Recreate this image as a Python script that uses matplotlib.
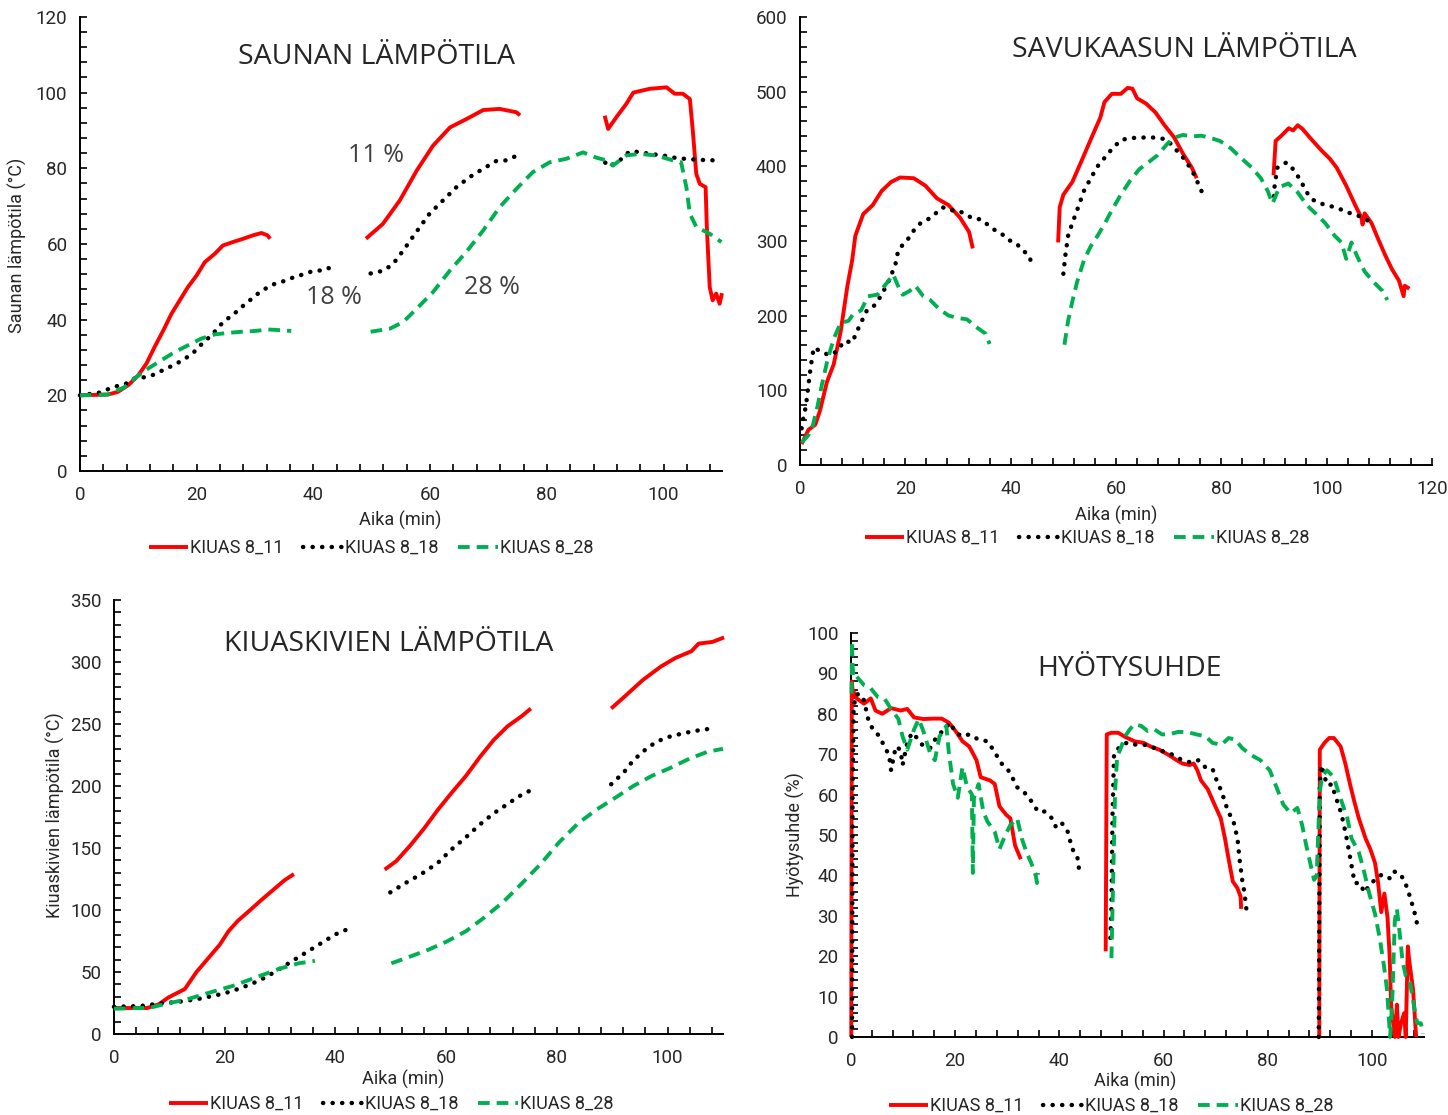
import numpy as np
import matplotlib
matplotlib.use("Agg")
import matplotlib.pyplot as plt
from matplotlib.ticker import MultipleLocator
from matplotlib.lines import Line2D

# ── data: (time min, value) pairs, None = break between firing periods ──────
SAUNA_11 = [(0, 20), (4.8, 20.2), (6.5, 20.9), (8.3, 22.7), (10, 25.3), (11.4, 28.4), (12.8, 32.8),
            (14.3, 37.2), (15.7, 41.6), (17.1, 45.1), (18.5, 48.6), (20, 51.7), (21.4, 55.2), (23.1, 57.4),
            (24.5, 59.6), (26.2, 60.5), (28, 61.4), (29.7, 62.3), (31.1, 62.9), (32.1, 62.3), (32.6, 61.4),
            None,
            (49.0, 61.4), (51.9, 65.3), (54.8, 71.5), (57.7, 79.4), (60.5, 86), (63.4, 90.8), (66.2, 93),
            (69.1, 95.4), (71.9, 95.7), (74.8, 94.8), (75.4, 94),
            None,
            (89.9, 93.9), (90.5, 90.4), (91.9, 93.5), (93.6, 97), (94.8, 100), (97.6, 101), (100.5, 101.4),
            (101.9, 99.7), (103.3, 99.7), (104.5, 98.3), (105.0, 90), (105.6, 78.5), (106.2, 75.9),
            (107.2, 75), (107.4, 64.5), (107.9, 48.6), (108.4, 45.1), (109.0, 46.9), (109.6, 44.2), (110, 47)]
SAUNA_18 = [(0, 20), (3.3, 20.7), (4.8, 21.6), (6.3, 22.4), (7.9, 23.1), (9.4, 24.5), (10.8, 24.7),
            (12.4, 25.3), (13.9, 26.4), (15.4, 27.5), (16.8, 28.6), (18.2, 29.9), (19.4, 31.2), (20.5, 33),
            (21.7, 34.7), (22.8, 36.3), (23.9, 38.3), (25, 40), (26.1, 41), (27.2, 42.7), (28.4, 44.2),
            (29.5, 45.6), (30.6, 47), (31.8, 48.2), (33.1, 49.3), (34.4, 49.9), (35.7, 50.6), (36.9, 51.4),
            (38.4, 52), (39.8, 52.8), (41.2, 53), (42.5, 53.7), (43.8, 52.6),
            None,
            (49.8, 52.2), (51.9, 52.9), (53.6, 54.6), (55.4, 58.3), (57.6, 63.1), (59.9, 68), (62.2, 71.5),
            (64.5, 75), (66.8, 77.7), (69.1, 79.9), (71.3, 81.9), (73.1, 82.1), (74.5, 83.1), (75.6, 82.5),
            None,
            (90.0, 81.5), (90.5, 80.5), (91.3, 81), (92.5, 82.1), (94.2, 84.5), (95.9, 84.3), (97.6, 83.8),
            (99.9, 83.4), (102.2, 82.7), (104.5, 82.4), (106.7, 82.2), (108.7, 82.1)]
SAUNA_28 = [(0, 20), (4.8, 20.2), (7.7, 22.2), (9.4, 24.5), (11.7, 27.1), (14, 29.3), (16.3, 31.5),
            (18.5, 33.2), (20.8, 35), (23.1, 36.1), (25.4, 36.5), (27.7, 36.8), (30, 37), (32.2, 37.4),
            (34.5, 37.2), (36.2, 37),
            None,
            (49.8, 36.8), (53.1, 37.6), (55.4, 39.4), (57.7, 42.9), (60.5, 47.3), (63.4, 53), (66.2, 57.9),
            (69.1, 63.6), (71.9, 69.7), (74.8, 74.6), (77.6, 79), (80.5, 81.6), (83.3, 82.5), (86.2, 84.2),
            (88.5, 82.8), (90.2, 82.1), (91.3, 80.7), (93.6, 83.4), (95.9, 83.8), (98.7, 83.4), (101.6, 82.1),
            (103, 81.6), (103.9, 75), (104.5, 68), (105.6, 64.5), (107.9, 62.7), (109.9, 60.5)]

FLUE_11 = [(0.3, 28), (1.6, 47), (2.9, 54), (3.8, 73), (5.1, 111), (6.4, 135), (7.7, 178), (9, 240),
           (9.9, 274), (10.5, 307), (12, 336), (13.8, 348), (15.5, 367), (17.3, 379), (19, 385), (21.6, 384),
           (23.8, 374), (26, 357), (28.2, 348), (30.4, 331), (32.1, 312), (32.8, 290),
           None,
           (49, 298), (49.3, 345), (50, 362), (51.7, 379), (53.5, 408), (55.2, 436), (57, 465), (57.8, 486),
           (59.2, 497), (60.9, 497), (62.2, 505), (63.1, 504), (64, 491), (65.7, 484), (67.5, 472),
           (69.2, 455), (71, 439), (72.7, 417), (74.4, 398), (75.3, 384),
           None,
           (89.9, 388), (90.3, 434), (91.4, 441), (92.8, 451), (93.6, 448), (94.5, 455), (95.4, 450),
           (97.1, 436), (98.9, 422), (100.6, 410), (101.9, 398), (103.7, 374), (105.4, 348), (106.6, 331),
           (106.8, 322), (107.2, 337), (108.5, 324), (109.8, 302), (111.1, 281), (112.4, 262), (113.7, 247),
           (114.6, 226), (114.8, 240), (115.7, 236)]
FLUE_18 = [(0.3, 49), (0.7, 66), (1.1, 78), (1.6, 107), (2, 130), (2.6, 157), (4, 152), (5.5, 147),
           (7, 152), (8.4, 166), (9.9, 164), (11.2, 185), (12.7, 207), (14.2, 214), (15.5, 228), (17.1, 250),
           (18.2, 271), (18.6, 286), (19.5, 295), (20.8, 305), (21.6, 314), (22.9, 324), (24.3, 329),
           (25.6, 336), (27.1, 345), (28.6, 341), (29.9, 341), (31.4, 336), (32.8, 330), (34.3, 329),
           (35.6, 322), (36.9, 315), (38.2, 310), (39.7, 301), (41, 297), (42.4, 287), (43.5, 280), (44.1, 267),
           None,
           (50, 256), (50.4, 282), (50.9, 307), (51.7, 324), (52.6, 341), (53.9, 367), (55.2, 384), (56.5, 400),
           (57.9, 412), (59.2, 423), (60.9, 435), (62.7, 438), (64.4, 438), (66.1, 439), (67.9, 438),
           (69.6, 436), (70.9, 426), (72.7, 412), (74, 399), (74.9, 388), (75.7, 375), (76.4, 364),
           None,
           (90, 360), (90.1, 373), (90.6, 398), (91.5, 401), (92.3, 405), (93.4, 398), (94.5, 387),
           (95.4, 376), (96.2, 365), (97.4, 355), (98.9, 350), (100.6, 347), (102.4, 343), (104.1, 338),
           (105.9, 334), (107.2, 330), (108.5, 324)]
FLUE_28 = [(0.3, 30), (1.6, 40), (2.4, 52), (3.3, 78), (4.2, 109), (5.2, 140), (6.4, 169), (7.7, 190),
           (9.2, 193), (10.1, 202), (11.6, 207), (12.9, 226), (14.7, 228), (16.4, 243), (17.7, 255),
           (18.6, 240), (19.5, 228), (20.8, 233), (21.9, 240), (23.4, 226), (24.7, 221), (26.4, 209),
           (28.2, 200), (29.9, 197), (31.7, 195), (33.4, 185), (35.2, 176), (36, 162),
           None,
           (50.2, 161), (50.9, 193), (51.7, 219), (52.6, 245), (53.9, 274), (55.2, 293), (56.5, 307),
           (57.9, 324), (59.2, 341), (60.9, 362), (62.7, 381), (64.4, 396), (66.1, 405), (67.9, 415),
           (69.6, 429), (70.9, 438), (72.7, 442), (74.4, 440), (76.2, 441), (77.9, 438), (79.7, 434),
           (81.8, 424), (83.6, 412), (85.8, 398), (87.5, 384), (88.8, 367), (89.7, 350), (91, 372),
           (92.7, 377), (94.5, 365), (96.2, 348), (98, 336), (99.7, 324), (101.5, 307), (102.8, 298),
           (103.7, 276), (104.7, 298), (105.8, 279), (107.2, 259), (108.9, 245), (110.6, 233), (111.5, 221)]

STONES_11 = [(0, 21), (6, 21), (8.1, 24), (9.8, 29.4), (12.8, 36.3), (14.9, 50), (17, 61), (19.1, 72),
             (20.7, 83), (22.4, 91.4), (24.5, 99.6), (26.6, 108), (28.7, 116), (30.8, 124), (32.5, 129),
             None,
             (48.9, 132.6), (51, 139.5), (53.5, 152), (56, 165.7), (58.5, 180.8), (61, 194.6), (63.6, 208.3),
             (66.1, 223.4), (68.6, 237.2), (71.1, 248.2), (73.7, 256.5), (75.3, 262.5),
             None,
             (89.8, 262.5), (92.1, 271.6), (95.5, 285.4), (98.8, 296.4), (101.4, 303.2), (104.3, 308.7),
             (105.6, 314.8), (108.1, 316.2), (110.2, 319.8)]
STONES_18 = [(0, 22), (4.8, 22.6), (8.6, 24.8), (11.5, 25.9), (14.9, 28), (17.4, 30.3), (19.9, 32.7),
             (22.4, 36.3), (24.9, 40.5), (27.5, 46), (30, 52.8), (32.5, 59.7), (35, 66.6), (37.5, 73.5),
             (40, 80.4), (42.6, 85.3),
             None,
             (49.9, 114.2), (52.6, 121.6), (55.5, 129), (58.5, 138), (61, 149), (63.6, 158.8), (66.1, 169),
             (68.6, 178), (71.1, 185.5), (73.2, 191.8), (75.6, 197.3),
             None,
             (89.8, 201.4), (92.1, 211), (93.8, 220.7), (95.9, 229), (98, 235.8), (100.5, 240), (103, 242.7),
             (105.6, 244.9), (107.9, 246.3)]
STONES_28 = [(0, 20.4), (6.5, 21.2), (9, 24), (13.2, 28), (17.4, 33.6), (21.6, 39), (25.8, 46), (30, 52.8),
             (33.3, 57), (36.3, 59),
             None,
             (50.1, 57), (53.5, 62.5), (56.8, 68), (60.2, 74.8), (63.6, 83), (66.9, 94), (70.3, 106.5),
             (73.7, 121.6), (77, 136.8), (80.4, 154.6), (83.8, 169.8), (87.1, 180.8), (90.5, 190.4),
             (93.8, 200), (97.2, 208.3), (100.5, 214.6), (103.9, 222), (107.2, 227.6), (110, 230)]

EFF_11 = [(0.05, 0), (0.15, 88), (0.3, 86), (1.1, 83.8), (2.5, 82.5), (3.8, 83.8), (4.7, 80.8), (6, 80),
          (7.7, 81.4), (9.5, 80.8), (10.8, 81.2), (12.1, 79.1), (13.9, 78.7), (15.7, 78.8), (17.4, 78.8),
          (18.8, 77.8), (20.1, 75.7), (21.4, 73.2), (22.7, 71.9), (24.1, 68.5), (24.9, 64.3), (26.7, 63.5),
          (27.6, 62.6), (28.5, 57.1), (29.8, 55), (30.6, 54.1), (31.5, 47.4), (32.6, 44),
          None,
          (48.9, 21.2), (49.1, 74.9), (50, 75.3), (51.3, 75.3), (52.6, 74.3), (54.4, 73.2), (56.2, 72.8),
          (57.5, 71.9), (59.2, 71.1), (61, 69.8), (62.3, 68.7), (63.6, 67.7), (65, 67.3), (65.8, 67.7),
          (66.5, 66), (67.2, 63.5), (68.5, 61.3), (69.8, 57.5), (71, 54.1), (71.8, 49.1), (72.5, 44),
          (73.3, 38.5), (74.2, 36.8), (74.8, 34.7), (74.9, 31.7),
          None,
          (89.9, 0), (90, 71.1), (90.9, 72.8), (91.8, 74), (92.7, 74), (94, 71.9), (94.9, 67.7), (95.8, 62.6),
          (96.6, 58.4), (97.5, 54.1), (98.8, 49.1), (99.7, 46.5), (100.6, 43.1), (101.2, 38.1), (101.8, 30.9),
          (102.4, 35.5), (103, 29.6), (103.4, 20.3), (103.7, 7.6), (104.4, 0), (104.8, 8), (105.1, 0),
          (105.6, 3.4), (106.2, 5.9), (106.5, 0), (106.9, 22.4), (107.2, 18.6), (107.9, 11.8), (108.5, 0)]
EFF_18 = [(0.2, 0), (0.3, 60), (0.5, 81.2), (0.9, 84.6), (1.6, 85), (2.5, 83.3), (3.3, 78.7), (4.2, 76.1),
          (5.5, 74.4), (6.4, 71.9), (7.3, 69.8), (7.7, 66), (8.6, 71.9), (9.5, 71.1), (9.9, 67.3),
          (10.8, 72.8), (11.7, 75.3), (13, 73.6), (13.9, 71.9), (15.2, 71.5), (16.5, 74.4), (17.9, 76.1),
          (19, 77.8), (20.1, 75.3), (21.4, 74.4), (22.7, 74.9), (24.5, 73.6), (26.2, 73.2), (27.3, 71.1),
          (28.9, 67.7), (30.2, 66), (31.1, 63.9), (31.9, 61.8), (33.3, 60.5), (34.6, 58.4), (35.9, 55.8),
          (37.2, 55.8), (38.6, 54.1), (39.4, 51.8), (40.5, 52.9), (41.6, 50.8), (42.5, 46.5), (43.4, 44.8),
          (43.8, 42.3), (43.6, 41),
          None,
          (49.8, 24.5), (50, 32.1), (50.2, 54.1), (50.5, 70.2), (51.8, 72.1), (53.1, 72.9), (54.8, 72.3),
          (56.6, 72.3), (58.3, 71.5), (60.1, 70.6), (61.9, 69.8), (63.6, 68.5), (65.4, 67.9), (66.7, 68.5),
          (68, 66.8), (69.4, 66.4), (70.2, 63.5), (71.1, 60.9), (72.5, 55.4), (73.3, 54.1), (74.2, 49.1),
          (74.6, 44), (75.1, 38.9), (75.5, 36), (75.9, 31.7),
          None,
          (89.8, 0), (89.9, 28.8), (90, 62.6), (90.3, 67.3), (90.9, 64.3), (91.6, 62.2), (92.3, 62.6),
          (93.1, 59.2), (93.8, 56.7), (94.5, 53.3), (95.3, 48.2), (96, 43.1), (96.7, 38.1), (97.7, 38.1),
          (98.6, 35.7), (99.5, 37.6), (100.6, 38.9), (101.9, 40.2), (103.4, 39.3), (104.1, 41), (105.2, 40.6),
          (106.2, 38.9), (107, 36), (108.1, 31.3), (108.7, 27.9)]
EFF_28 = [(0.1, 85), (0.2, 98), (0.3, 92), (0.5, 88.8), (1.1, 89.2), (2.5, 87.1), (3.8, 86.3), (5.1, 84.2),
          (6.4, 83.8), (7.7, 81.2), (9.1, 78.7), (9.9, 74.4), (10.8, 71.1), (12.1, 76.1), (13, 78.7),
          (13.9, 75.7), (15.2, 70.2), (16.1, 68.5), (17, 74.4), (18.3, 77), (18.8, 70.2), (19.6, 62.6),
          (20.5, 59.2), (21.4, 66.8), (22.3, 61.8), (23.2, 60.1), (23.4, 40.6), (23.6, 59.2), (24.5, 62.6),
          (25.4, 55.8), (26.2, 53.3), (27.6, 50.8), (28.5, 46.5), (29.6, 49.9), (30.6, 52.5), (31.9, 54.1),
          (32.8, 49.1), (33.7, 45.7), (34.6, 43.1), (35.5, 39.8), (35.7, 38.1), (35.9, 40.6),
          None,
          (50, 19.5), (50.3, 37.2), (50.7, 60.9), (51.1, 69.4), (51.8, 71.5), (52.6, 74.4), (53.5, 76.1),
          (54.4, 77.4), (55.7, 77), (57, 75.7), (58.3, 76.1), (59.7, 74.9), (61, 74.9), (62.8, 75.5),
          (64.5, 75.5), (66.3, 74.9), (68.1, 74.4), (69.4, 72.8), (71.1, 72.3), (72.5, 74), (73.8, 73.6),
          (75.1, 71.5), (76.8, 69.8), (78.6, 68.5), (80.4, 66), (81.7, 61.8), (83, 57.5), (84.4, 55.4),
          (85.7, 56.7), (86.6, 52.5), (87.4, 47.4), (88.3, 42.3), (88.9, 38.9), (89.4, 39.8), (90, 60.9),
          (90.5, 64.7), (91.4, 66), (92.7, 64.3), (93.5, 60.9), (94.4, 57.5), (95.3, 54.1), (96.1, 49.1),
          (97.5, 45.7), (98.4, 41.5), (99.5, 35.5), (100.6, 30.5), (101.5, 24.5), (102.3, 17.8),
          (102.9, 11.8), (103.5, 0), (103.9, 8.5), (104.4, 28.8), (104.8, 31.7), (105.3, 26.2),
          (105.9, 18.6), (106.5, 15.2), (107.2, 14.4), (108.1, 7.6), (108.7, 3.4), (109.4, 3.4), (109.8, 0.8)]

LABELS = ["KIUAS 8_11", "KIUAS 8_18", "KIUAS 8_28"]

# ── style ─────────────────────────────────────────────────────────────────────
NARROW = ["Liberation Sans Narrow", "Roboto", "DejaVu Sans"]
TITLE_FONT = ["Open Sans", "DejaVu Sans"]
TXT = "#262626"
STYLES = [
    dict(color="#FF0000", lw=2.8, ls="-", solid_capstyle="butt"),
    dict(color="#000000", lw=3.2, ls=(0, (0.05, 2.1)), dash_capstyle="round"),
    dict(color="#00B050", lw=2.8, ls=(0, (3.0, 1.8)), dash_capstyle="butt"),
]

plt.rcParams.update({
    "font.family": NARROW,
    "axes.linewidth": 1.4,
    "xtick.direction": "in",
    "ytick.direction": "in",
    "xtick.major.size": 5, "xtick.minor.size": 5,
    "ytick.major.size": 5, "ytick.minor.size": 5,
    "xtick.major.width": 1.2, "xtick.minor.width": 1.2,
    "ytick.major.width": 1.2, "ytick.minor.width": 1.2,
    "xtick.color": "black", "ytick.color": "black",
    "xtick.labelcolor": TXT, "ytick.labelcolor": TXT,
})


def to_xy(pairs):
    t = [np.nan if p is None else p[0] for p in pairs]
    v = [np.nan if p is None else p[1] for p in pairs]
    return np.array(t, float), np.array(v, float)


fig = plt.figure(figsize=(14.48, 11.15), dpi=100)

PANELS = [
    dict(rect=[0.0552, 0.5776, 0.4434, 0.4072], data=[SAUNA_11, SAUNA_18, SAUNA_28],
         xmax=110, ymax=120, ymaj=20, ymin=4),
    dict(rect=[0.5525, 0.5830, 0.4365, 0.4018], data=[FLUE_11, FLUE_18, FLUE_28],
         xmax=120, ymax=600, ymaj=100, ymin=20),
    dict(rect=[0.0787, 0.0726, 0.4206, 0.3893], data=[STONES_11, STONES_18, STONES_28],
         xmax=110, ymax=350, ymaj=50, ymin=10),
    dict(rect=[0.5877, 0.0700, 0.3957, 0.3623], data=[EFF_11, EFF_18, EFF_28],
         xmax=110, ymax=100, ymaj=10, ymin=2),
]

for p in PANELS:
    ax = fig.add_axes(p["rect"])
    for series, st in zip(p["data"], STYLES):
        t, v = to_xy(series)
        ax.plot(t, v, **st, zorder=3, clip_on=False)
    ax.set_xlim(0, p["xmax"])
    ax.set_ylim(0, p["ymax"])
    ax.xaxis.set_major_locator(MultipleLocator(20))
    ax.xaxis.set_minor_locator(MultipleLocator(4))
    ax.yaxis.set_major_locator(MultipleLocator(p["ymaj"]))
    ax.yaxis.set_minor_locator(MultipleLocator(p["ymin"]))
    for s in ("top", "right"):
        ax.spines[s].set_visible(False)
    ax.tick_params(labelsize=13.5, pad=9)
    ax.tick_params(axis="x", pad=11)

# ── titles, axis labels, annotations ─────────────────────────────────────────
for x, y, s in [(376, 57, "SAUNAN LÄMPÖTILA"), (1184, 50, "SAVUKAASUN LÄMPÖTILA"),
                (389, 644, "KIUASKIVIEN LÄMPÖTILA"), (1129, 669, "HYÖTYSUHDE")]:
    fig.text(x / 1448, 1 - y / 1115, s, ha="center", va="center", fontsize=20.5,
             family=TITLE_FONT, color=TXT)

for x, y, s in [(376, 156, "11 %"), (334, 298, "18 %"), (492, 287, "28 %")]:
    fig.text(x / 1448, 1 - y / 1115, s, ha="center", va="center", fontsize=18,
             family=TITLE_FONT, color="#404040")

for x, y in [(400, 520), (1116, 515), (403, 1079), (1135, 1081)]:
    fig.text(x / 1448, 1 - y / 1115, "Aika (min)", ha="center", va="center", fontsize=13, color=TXT)

for x, y, s in [(17, 245, "Saunan lämpötila (°C)"), (55, 815, "Kiuaskivien lämpötila (°C)"),
                (795, 835, "Hyötysuhde (%)")]:
    fig.text(x / 1448, 1 - y / 1115, s, ha="center", va="center", fontsize=13, rotation=90, color=TXT)

# ── legends below each panel ─────────────────────────────────────────────────
handles = [Line2D([], [], **st) for st in STYLES]
for x, y in [(371, 548), (1087, 538), (391, 1104), (1111, 1106)]:
    fig.legend(handles, LABELS, loc="center", bbox_to_anchor=(x / 1448, 1 - y / 1115), ncol=3,
               frameon=False, fontsize=13, handlelength=2.2, handletextpad=0.1, columnspacing=1.1,
               labelcolor=TXT)

fig.savefig("out.png", dpi=100)
